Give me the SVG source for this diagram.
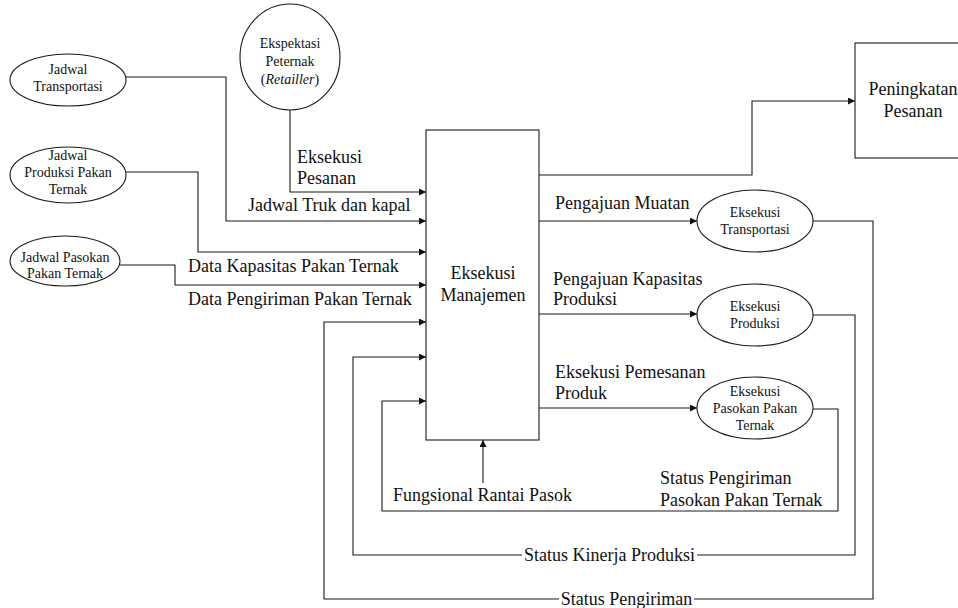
<svg xmlns="http://www.w3.org/2000/svg" width="958" height="608" viewBox="0 0 958 608" font-family="'Liberation Serif', 'Times New Roman', 'DejaVu Serif', serif">
  <style>
    .shape { fill: #fff; stroke: #1a1a1a; stroke-width: 1.1; }
    .wire { fill: none; stroke: #1a1a1a; stroke-width: 1.1; }
    .big { font-family: 'Liberation Serif', 'Times New Roman', 'DejaVu Serif', serif; font-size: 18px; fill: #111; }
    .small { font-family: 'Liberation Serif', 'Times New Roman', 'DejaVu Serif', serif; font-size: 14px; text-anchor: middle; fill: #111; }
    .mid { text-anchor: middle; }
  </style>
  <defs>
    <marker id="arrow" viewBox="0 0 10 10" refX="10" refY="5" markerWidth="8" markerHeight="7" markerUnits="userSpaceOnUse" orient="auto">
      <path d="M0 0 L10 5 L0 10 Z" fill="#111"/>
    </marker>
  </defs>
  <rect width="958" height="608" fill="#fff"/>

  <!-- connectors -->
  <g id="connectors">
    <path class="wire" d="M290 110 V192 H426" marker-end="url(#arrow)"/>
    <path class="wire" d="M126 77 H226 V221 H426" marker-end="url(#arrow)"/>
    <path class="wire" d="M126 172 H198 V252 H426" marker-end="url(#arrow)"/>
    <path class="wire" d="M120 265 H175 V285 H426" marker-end="url(#arrow)"/>
    <path class="wire" d="M539 175 H752 V101 H855" marker-end="url(#arrow)"/>
    <path class="wire" d="M539 221 H697" marker-end="url(#arrow)"/>
    <path class="wire" d="M539 314 H697" marker-end="url(#arrow)"/>
    <path class="wire" d="M539 408 H697" marker-end="url(#arrow)"/>
    <path class="wire" d="M813 221 H873 V599 H324 V322 H426" marker-end="url(#arrow)"/>
    <path class="wire" d="M813 315 H855 V555 H353 V357 H426" marker-end="url(#arrow)"/>
    <path class="wire" d="M813 409 H838 V511 H382 V401 H426" marker-end="url(#arrow)"/>
    <path class="wire" d="M483 483 V440" marker-end="url(#arrow)"/>
  </g>

  <!-- connector labels -->
  <g id="labels">
    <text class="big" x="297" y="163">Eksekusi</text>
    <text class="big" x="297" y="184">Pesanan</text>
    <text class="big" x="248" y="211">Jadwal Truk dan kapal</text>
    <text class="big" x="188" y="272">Data Kapasitas Pakan Ternak</text>
    <text class="big" x="188" y="305">Data Pengiriman Pakan Ternak</text>
    <text class="big" x="555" y="209">Pengajuan Muatan</text>
    <text class="big" x="553" y="285">Pengajuan Kapasitas</text>
    <text class="big" x="553" y="305">Produksi</text>
    <text class="big" x="555" y="378">Eksekusi Pemesanan</text>
    <text class="big" x="555" y="399">Produk</text>
    <text class="big" x="393" y="501">Fungsional Rantai Pasok</text>
    <text class="big" x="660" y="484">Status Pengiriman</text>
    <text class="big" x="660" y="506">Pasokan Pakan Ternak</text>
    <rect x="522" y="545" width="175" height="20" fill="#fff"/>
    <text class="big mid" x="609.5" y="561">Status Kinerja Produksi</text>
    <rect x="559" y="590" width="135" height="18" fill="#fff"/>
    <text class="big mid" x="626.5" y="605">Status Pengiriman</text>
  </g>

  <!-- sources -->
  <g id="ekspektasi-peternak">
    <ellipse class="shape" cx="290" cy="57" rx="50" ry="53"/>
    <text class="small" x="290" y="48">Ekspektasi</text>
    <text class="small" x="290" y="66">Peternak</text>
    <text class="small" x="290" y="84">(<tspan font-style="italic">Retailler</tspan>)</text>
  </g>
  <g id="jadwal-transportasi">
    <ellipse class="shape" cx="68" cy="80" rx="58" ry="26"/>
    <text class="small" x="68" y="74">Jadwal</text>
    <text class="small" x="68" y="91">Transportasi</text>
  </g>
  <g id="jadwal-produksi">
    <ellipse class="shape" cx="68" cy="175" rx="58" ry="28"/>
    <text class="small" x="68" y="160">Jadwal</text>
    <text class="small" x="68" y="177">Produksi Pakan</text>
    <text class="small" x="68" y="194">Ternak</text>
  </g>
  <g id="jadwal-pasokan">
    <ellipse class="shape" cx="65" cy="261" rx="55" ry="25"/>
    <text class="small" x="65" y="262">Jadwal Pasokan</text>
    <text class="small" x="65" y="278">Pakan Ternak</text>
  </g>

  <!-- central process -->
  <g id="eksekusi-manajemen">
    <rect class="shape" x="426" y="130" width="113" height="310"/>
    <text class="big mid" x="483" y="279">Eksekusi</text>
    <text class="big mid" x="483" y="301">Manajemen</text>
  </g>

  <g id="peningkatan-pesanan">
    <rect class="shape" x="855" y="43" width="120" height="115"/>
    <text class="big mid" x="913" y="95">Peningkatan</text>
    <text class="big mid" x="913" y="117">Pesanan</text>
  </g>

  <!-- execution nodes -->
  <g id="eksekusi-transportasi">
    <ellipse class="shape" cx="755" cy="221" rx="58" ry="31"/>
    <text class="small" x="755" y="217">Eksekusi</text>
    <text class="small" x="755" y="234">Transportasi</text>
  </g>
  <g id="eksekusi-produksi">
    <ellipse class="shape" cx="755" cy="315" rx="58" ry="31"/>
    <text class="small" x="755" y="311">Eksekusi</text>
    <text class="small" x="755" y="328">Produksi</text>
  </g>
  <g id="eksekusi-pasokan">
    <ellipse class="shape" cx="755" cy="408" rx="58" ry="31"/>
    <text class="small" x="755" y="396">Eksekusi</text>
    <text class="small" x="755" y="413">Pasokan Pakan</text>
    <text class="small" x="755" y="430">Ternak</text>
  </g>
</svg>
